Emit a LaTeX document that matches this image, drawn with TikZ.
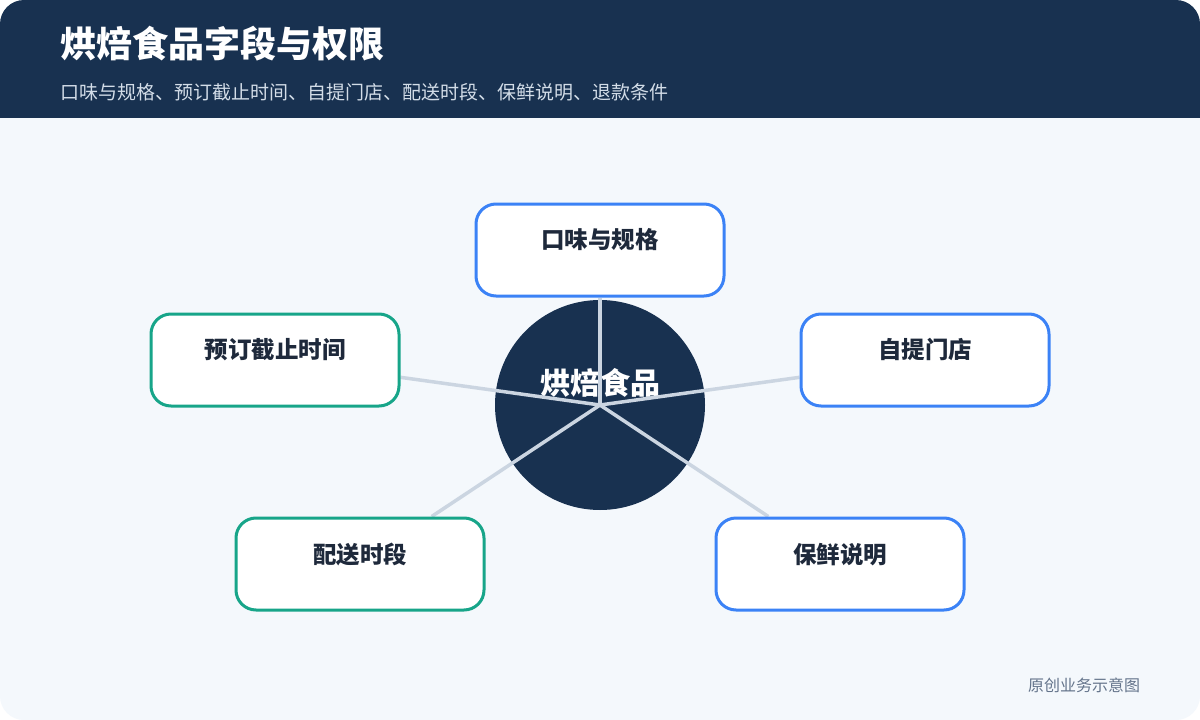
\documentclass[tikz,border=0pt]{standalone}
\usepackage{fontspec}
\setmainfont{Noto Sans CJK SC}
\definecolor{hdr}{HTML}{183150}
\definecolor{bodybg}{HTML}{F4F8FC}
\definecolor{bluec}{HTML}{3B82F6}
\definecolor{greenc}{HTML}{17A589}
\definecolor{linec}{HTML}{CBD5E1}
\definecolor{txtc}{HTML}{1E293B}
\definecolor{subc}{HTML}{D3DDE8}
\definecolor{footc}{HTML}{64748B}
\pgfdeclarelayer{back}
\pgfdeclarelayer{mid}
\pgfsetlayers{back,mid,main}
\tikzset{
  box/.style={draw=#1, line width=3pt, fill=white, rounded corners=20pt,
    minimum width=248pt, minimum height=92pt, inner sep=0pt},
  boxtext/.style={anchor=base, text=txtc, font=\fontsize{23.5}{28}\selectfont\bfseries, inner sep=0pt},
  conn/.style={draw=linec, line width=3.5pt},
}
\begin{document}
\begin{tikzpicture}[x=1pt,y=-1pt]
\useasboundingbox (0,0) rectangle (1200,720);
\begin{pgfonlayer}{back}
\fill[white] (0,0) rectangle (1200,720);
\fill[bodybg, rounded corners=24pt] (0,0) rectangle (1200,720);
\begin{scope}
\clip[rounded corners=24pt] (0,0) rectangle (1200,720);
\fill[hdr] (0,0) rectangle (1200,118);
\end{scope}
\node[circle, fill=hdr, minimum size=210pt, inner sep=0pt] (c) at (600,405) {};
\node[anchor=base, inner sep=0pt, text=white, font=\fontsize{30}{34}\selectfont\bfseries] (ct) at (600,394) {烘焙食品};
\end{pgfonlayer}
\node[anchor=base west, inner sep=0pt, text=white, font=\fontsize{36}{40}\selectfont\bfseries] (title) at (60,57) {烘焙食品字段与权限};
\node[anchor=base west, inner sep=0pt, text=subc, font=\fontsize{19}{22}\selectfont] (sub) at (60,99) {口味与规格、预订截止时间、自提门店、配送时段、保鲜说明、退款条件};
% boxes
\node[box=bluec] (b1) at (600,250) {};
\node[box=bluec] (b2) at (925,360) {};
\node[box=greenc] (b3) at (275,360) {};
\node[box=greenc] (b4) at (360,564) {};
\node[box=bluec] (b5) at (840,564) {};
% connectors
\begin{pgfonlayer}{mid}
\draw[conn] (c.center) -- (b1);
\draw[conn] (c.center) -- (b2);
\draw[conn] (c.center) -- (b3);
\draw[conn] (c.center) -- (b4);
\draw[conn] (c.center) -- (b5);
\end{pgfonlayer}
\node[boxtext] (t1) at (600,248) {口味与规格};
\node[boxtext] (t2) at (925,358) {自提门店};
\node[boxtext] (t3) at (275,358) {预订截止时间};
\node[boxtext] (t4) at (360,563) {配送时段};
\node[boxtext] (t5) at (840,563) {保鲜说明};
\node[anchor=base west, inner sep=0pt, text=footc, font=\fontsize{16}{18}\selectfont] (foot) at (1028,691) {原创业务示意图};
\end{tikzpicture}
\end{document}
